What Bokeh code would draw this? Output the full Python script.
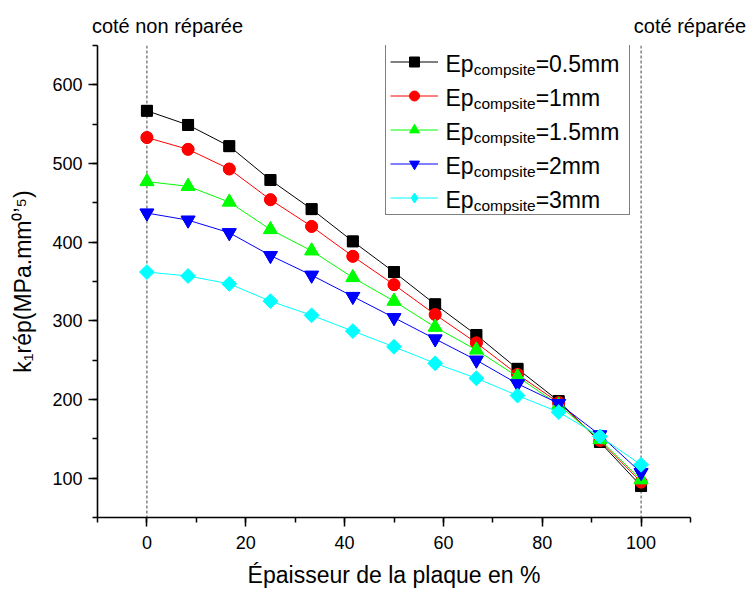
import math
from bokeh.plotting import figure
from bokeh.models import (Range1d, Span, Legend, LegendItem, Label,
                          SingleIntervalTicker, FixedTicker, LinearAxis)
from bokeh.embed import file_html
from bokeh.resources import INLINE

# ---------------- data ----------------
positions = [0, 8.33, 16.67, 25, 33.33, 41.67, 50, 58.33, 66.67, 75, 83.33, 91.67, 100]
ep_0_5mm = [567, 549, 522, 479, 442, 401, 362, 321, 282, 239, 198, 146, 90]
ep_1mm   = [533, 518, 493, 454, 420, 382, 346, 308, 272, 232, 196, 148, 95]
ep_1_5mm = [477, 471, 451, 416, 389, 355, 325, 292, 263, 229, 193, 149, 98]
ep_2mm   = [437, 428, 412, 383, 358, 331, 304, 277, 250, 220, 195, 155, 107]
ep_3mm   = [362, 357, 347, 325, 307, 287, 267, 246, 227, 205, 184, 153, 117]
legend_suffix = ["=0.5mm", "=1mm", "=1.5mm", "=2mm", "=3mm"]
legend_main = "Ep"
legend_sub = "compsite"
x_title = "Épaisseur de la plaque en %"
y_title = "k\u2081rép(MPa.mm\u2070\u02bc\u2075)"
left_note = "coté non réparée"
right_note = "coté réparée"
side_lines = [0, 100]

series = [ep_0_5mm, ep_1mm, ep_1_5mm, ep_2mm, ep_3mm]
colors = ["#000000", "#FF0000", "#00FF00", "#0000FF", "#00FFFF"]
markers = ["square", "circle", "triangle", "inverted_triangle", "square"]
legend_markers = ["square", "circle", "triangle", "inverted_triangle", "diamond"]
angles = [0, 0, 0, 0, math.pi / 4]
sizes = [11, 12, 14, 14, 10.5]

# ---------------- layout ----------------
W, H = 751, 590
FL, FR, FT, FB = 97, 690, 45, 518
X0, X1 = -10, 110
Y0, Y1 = 50, 650
FONT = "Liberation Sans"


def dx(px):
    return X0 + (px - FL) / (FR - FL) * (X1 - X0)


def dy(py):
    return Y1 - (py - FT) / (FB - FT) * (Y1 - Y0)


p = figure(width=W, height=H, x_range=Range1d(X0, X1), y_range=Range1d(Y0, Y1),
           output_backend="svg", toolbar_location=None,
           min_border_left=FL, min_border_right=W - FR,
           min_border_top=FT, min_border_bottom=H - FB)
p.outline_line_color = None
p.xgrid.grid_line_color = None
p.ygrid.grid_line_color = None
p.background_fill_color = "white"
p.border_fill_color = "white"

for ax in (p.xaxis[0], p.yaxis[0]):
    ax.axis_line_width = 1.6
    ax.axis_line_color = "black"
    ax.major_tick_line_width = 1.5
    ax.minor_tick_line_width = 1.5
    ax.major_tick_line_color = "black"
    ax.minor_tick_line_color = "black"
    ax.major_tick_in = 0
    ax.major_tick_out = 9
    ax.minor_tick_in = 0
    ax.minor_tick_out = 5
    ax.major_label_text_font = FONT
    ax.major_label_text_font_size = "18px"
    ax.major_label_text_color = "black"
    ax.axis_label_text_font = FONT
    ax.axis_label_text_font_style = "normal"
    ax.axis_label_text_color = "black"

p.xaxis[0].ticker = SingleIntervalTicker(interval=20, num_minor_ticks=2)
p.yaxis[0].ticker = SingleIntervalTicker(interval=100, num_minor_ticks=2)
p.xaxis[0].major_label_standoff = 9
p.yaxis[0].major_label_standoff = 6
p.xaxis[0].axis_label = x_title
p.xaxis[0].axis_label_text_font_size = "23px"
p.xaxis[0].axis_label_standoff = 10
p.yaxis[0].axis_label = y_title
p.yaxis[0].axis_label_text_font_size = "23px"
p.yaxis[0].axis_label_standoff = 13

# notes above the plot, carried by a bare top axis
note_ticks = [dx(167), 109.9]
top = LinearAxis(ticker=FixedTicker(ticks=note_ticks),
                 major_label_overrides={note_ticks[0]: left_note,
                                        note_ticks[1]: right_note},
                 axis_line_color=None, major_tick_line_color=None,
                 minor_tick_line_color=None, major_tick_out=0, major_tick_in=0,
                 major_label_standoff=9, major_label_text_font=FONT,
                 major_label_text_font_size="20px",
                 major_label_text_color="black")
p.add_layout(top, "above")

for xv in side_lines:
    p.add_layout(Span(location=xv, dimension="height", line_color="#444444",
                      line_width=1, line_dash="3 2", level="underlay"))

items = []
for ys, c, m, lm, s, a in zip(series, colors, markers, legend_markers, sizes, angles):
    lr = p.line(positions, ys, line_color=c, line_width=1)
    # legend-sample marker (drawn first, covered by the visible marker)
    lg = p.scatter(positions, ys, marker=lm, size=s * 0.95, fill_color=c,
                   line_color=c)
    p.scatter(positions, ys, marker=m, size=s, angle=a,
              fill_color=c, line_color=c)
    items.append(LegendItem(label=" ", renderers=[lr, lg]))

LEG_LEFT, LEG_BOTTOM = 385, 216
legend = Legend(items=items, location=(LEG_LEFT - FL, FB - LEG_BOTTOM),
                glyph_width=48, glyph_height=25, label_height=25,
                label_width=182, label_standoff=5, spacing=9, padding=4,
                margin=0, border_line_color="black", border_line_width=1,
                background_fill_alpha=0, label_text_font_size="10px")
p.add_layout(legend)


def add_text(px, py, txt, size):
    p.add_layout(Label(x=dx(px), y=dy(py), text=txt,
                       text_font=FONT, text_font_size=f"{size}px",
                       text_color="black", text_align="left",
                       text_baseline="alphabetic"))


# legend texts with subscript
row_centers = [63.5, 97.5, 131.5, 165.5, 199.5]
MAIN, SUB = 23, 15.5
for rc, suf in zip(row_centers, legend_suffix):
    x_ep = 445
    x_sub = x_ep + 1.223 * MAIN
    x_suf = x_sub + 4.001 * SUB
    add_text(x_ep, rc, legend_main, MAIN)
    add_text(x_sub, rc + 5.5, legend_sub, SUB)
    add_text(x_suf, rc, suf, MAIN)

open("out.html", "w").write(file_html(p, INLINE))
